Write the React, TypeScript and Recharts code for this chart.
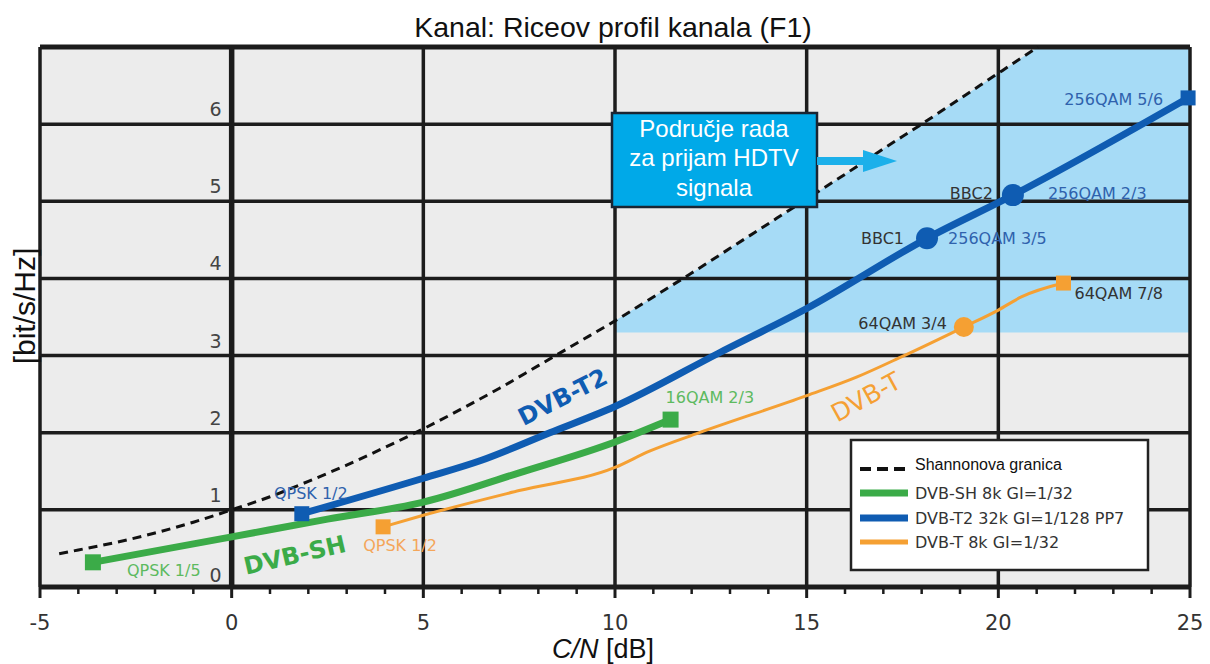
import React from 'react'
import { ComposedChart, Line, Area, XAxis, YAxis, CartesianGrid, ReferenceLine, ReferenceDot } from 'recharts'

// Shannonova granica
const shannonSnr = [-4.5, -4, -3, -2, -1, 0, 1, 2, 3, 4, 5, 6, 7, 8, 9, 10, 11, 12, 13, 14, 15, 16, 17, 18, 19, 20, 21.03]
const shannonEff = [0.43, 0.48, 0.58, 0.7, 0.84, 1.0, 1.17, 1.37, 1.58, 1.81, 2.05, 2.31, 2.58, 2.87, 3.16, 3.45, 3.76, 4.07, 4.39, 4.71, 5.03, 5.35, 5.68, 6.0, 6.33, 6.66, 7.0]

// DVB-SH 8k GI=1/32
const shSnr = [-3.62, 0, 2.5, 5, 7.5, 10, 11.45]
const shEff = [0.32, 0.65, 0.88, 1.1, 1.48, 1.88, 2.17]

// DVB-T2 32k GI=1/128 PP7
const t2Snr = [1.83, 5, 6.5, 8.3, 10, 12.7, 15, 18.14, 20.38, 24.95]
const t2Eff = [0.95, 1.41, 1.64, 2.0, 2.34, 3.03, 3.61, 4.52, 5.08, 6.34]

// DVB-T 8k GI=1/32
const tSnr = [3.95, 5, 7.5, 10, 10.9, 12.2, 15, 16.3, 17.5, 19.1, 20, 20.6, 21.7]
const tEff = [0.78, 0.93, 1.25, 1.55, 1.76, 2.0, 2.48, 2.72, 2.99, 3.37, 3.59, 3.76, 3.94]

// HDTV region: from 10 dB, above 3.3 bit/s/Hz, under the Shannon limit
const hdtvStart = 10
const hdtvFloor = 3.3
const hdtvEnd = 25
const yMax = 7

const xMajor = [-5, 0, 5, 10, 15, 20, 25]
const xMinor = Array.from({ length: 31 }, (_, i) => i - 5)
const yGrid = [1, 2, 3, 4, 5, 6]
const yLabels = [0, 1, 2, 3, 4, 5, 6]

const BLUE = '#0f5cb2'
const GREEN = '#3bab48'
const ORANGE = '#f5a033'
const GRID = '#1c1c1c'
const VERDANA = '"DejaVu Sans", Verdana, sans-serif'
const ARIAL = '"Liberation Sans", Arial, sans-serif'

const zip = (xs: number[], ys: number[]) => xs.map((x, i) => ({ x, y: ys[i] }))
const shannonData = zip(shannonSnr, shannonEff)
const shData = zip(shSnr, shEff)
const t2Data = zip(t2Snr, t2Eff)
const tData = zip(tSnr, tEff)
const hdtvData = [
  ...shannonData.filter((d) => d.x >= hdtvStart).map((d) => ({ x: d.x, lo: hdtvFloor, hi: d.y })),
  { x: hdtvEnd, lo: hdtvFloor, hi: yMax },
]

// point annotations, anchored on the markers
const pointTags = [
  { x: t2Snr[0], y: t2Eff[0], text: 'QPSK 1/2', color: '#2f62ad', anchor: 'middle', dx: 9, dy: -20 },
  { x: shSnr[0], y: shEff[0], text: 'QPSK 1/5', color: '#5dba5f', anchor: 'start', dx: 34, dy: 8 },
  { x: tSnr[0], y: tEff[0], text: 'QPSK 1/2', color: '#f4a65a', anchor: 'middle', dx: 17, dy: 19 },
  { x: shSnr[6], y: shEff[6], text: '16QAM 2/3', color: '#5dba5f', anchor: 'start', dx: -5, dy: -22 },
  { x: tSnr[9], y: tEff[9], text: '64QAM 3/4', color: '#333', anchor: 'end', dx: -17, dy: -4 },
  { x: tSnr[12], y: tEff[12], text: '64QAM 7/8', color: '#333', anchor: 'start', dx: 11, dy: 10 },
  { x: t2Snr[7], y: t2Eff[7], text: 'BBC1', color: '#333', anchor: 'end', dx: -23, dy: 0 },
  { x: t2Snr[7], y: t2Eff[7], text: '256QAM 3/5', color: '#2f62ad', anchor: 'start', dx: 21, dy: 0 },
  { x: t2Snr[8], y: t2Eff[8], text: 'BBC2', color: '#333', anchor: 'end', dx: -20, dy: -2 },
  { x: t2Snr[8], y: t2Eff[8], text: '256QAM 2/3', color: '#2f62ad', anchor: 'start', dx: 35, dy: -2 },
  { x: t2Snr[9], y: t2Eff[9], text: '256QAM 5/6', color: '#2f62ad', anchor: 'end', dx: -25, dy: 2 },
]

// curve names written along the lines
const curveTags = [
  { x: 8.64, y: 2.46, text: 'DVB-T2', color: BLUE, rot: -27, size: 24, weight: 700 },
  { x: 1.65, y: 0.41, text: 'DVB-SH', color: GREEN, rot: -13, size: 24, weight: 700 },
  { x: 16.55, y: 2.46, text: 'DVB-T', color: ORANGE, rot: -29, size: 25, weight: 400 },
]

function Tag(props: any) {
  const { viewBox, text, color, anchor = 'middle', dx = 0, dy = 0, size = 16, weight = 400, rot = 0 } = props
  if (!viewBox) return null
  const cx = viewBox.x + (viewBox.width || 0) / 2 + dx
  const cy = viewBox.y + (viewBox.height || 0) / 2 + dy
  return (
    <text
      x={cx}
      y={cy}
      textAnchor={anchor}
      dominantBaseline="central"
      fill={color}
      fontSize={size}
      fontWeight={weight}
      fontFamily={VERDANA}
      transform={rot ? `rotate(${rot} ${cx} ${cy})` : undefined}
    >
      {text}
    </text>
  )
}

function XTick({ x, y, payload }: any) {
  const major = payload.value % 5 === 0
  return (
    <g>
      <line x1={x} x2={x} y1={y} y2={y + (major ? 11 : 7)} stroke={GRID} strokeWidth={major ? 3 : 2.5} />
      {major && (
        <text x={x} y={y + 36} textAnchor="middle" dominantBaseline="central" fontSize={21} fill="#333" fontFamily={VERDANA}>
          {payload.value}
        </text>
      )}
    </g>
  )
}

function markerDot(color: string, sq: number, circ: number, circleAt: number[], last: number) {
  return (p: any) => {
    const { cx, cy, index } = p
    const key = `m${color}${index}`
    if (cx == null || cy == null) return <g key={key} />
    if (index === 0 || index === last) {
      return <rect key={key} x={cx - sq / 2} y={cy - sq / 2} width={sq} height={sq} fill={color} />
    }
    if (circleAt.includes(index)) return <circle key={key} cx={cx} cy={cy} r={circ} fill={color} />
    return <g key={key} />
  }
}

function Overlay() {
  return (
    <svg width={1194} height={656} style={{ position: 'absolute', left: 0, top: 0, pointerEvents: 'none' }}>
      <text x={605} y={19} textAnchor="middle" dominantBaseline="central" fontSize={28.5} fontFamily={ARIAL} fill="#111">
        Kanal: Riceov profil kanala (F1)
      </text>
      <text
        transform="translate(16 298) rotate(-90)"
        textAnchor="middle"
        dominantBaseline="central"
        fontSize={30}
        fontFamily={ARIAL}
        fill="#111"
      >
        [bit/s/Hz]
      </text>
      <text x={595} y={641} textAnchor="middle" dominantBaseline="central" fontSize={27} fontFamily={ARIAL} fill="#111">
        <tspan fontStyle="italic">C/N</tspan>
        <tspan> [dB]</tspan>
      </text>

      <rect x={604} y={105} width={205} height={94} fill="#00a9e8" stroke="#1a2533" strokeWidth={2.5} />
      {['Područje rada', 'za prijam HDTV', 'signala'].map((t, i) => (
        <text key={t} x={706} y={120 + i * 29.5} textAnchor="middle" dominantBaseline="central" fontSize={24} fontFamily={ARIAL} fill="#fff">
          {t}
        </text>
      ))}
      <rect x={809} y={149} width={47} height={8} fill="#1cb0ea" />
      <polygon points="855,142 889,153 855,164" fill="#1cb0ea" />

      <rect x={843} y={432} width={297} height={130} fill="#fff" stroke="#222" strokeWidth={2.5} />
      <line x1={852} x2={900} y1={461} y2={461} stroke="#111" strokeWidth={4} strokeDasharray="11 6" />
      <text x={907} y={456} dominantBaseline="central" fontSize={16} fontFamily={ARIAL} fill="#111">
        Shannonova granica
      </text>
      {[
        { c: GREEN, w: 7, y: 485, t: 'DVB-SH 8k GI=1/32' },
        { c: BLUE, w: 7, y: 510, t: 'DVB-T2 32k GI=1/128 PP7' },
        { c: ORANGE, w: 5, y: 534, t: 'DVB-T 8k GI=1/32' },
      ].map((r) => (
        <g key={r.t}>
          <line x1={852} x2={900} y1={r.y} y2={r.y} stroke={r.c} strokeWidth={r.w} />
          <text x={907} y={r.y} dominantBaseline="central" fontSize={16} fontFamily={VERDANA} fill="#333">
            {r.t}
          </text>
        </g>
      ))}
    </svg>
  )
}

export default function App() {
  return (
    <div style={{ position: 'relative', width: 1194, height: 656, fontFamily: ARIAL }}>
      <ComposedChart width={1194} height={648} margin={{ top: 39, right: 12, left: 32, bottom: 9 }}>
        <CartesianGrid fill="#ececec" stroke="none" horizontal={false} vertical={false} />
        <XAxis
          type="number"
          dataKey="x"
          domain={[-5, 25]}
          ticks={xMinor}
          interval={0}
          height={60}
          tickSize={0}
          tickMargin={0}
          tickLine={false}
          tick={<XTick />}
          axisLine={{ stroke: GRID, strokeWidth: 5 }}
        />
        <YAxis type="number" domain={[0, yMax]} hide />

        <Area
          data={hdtvData}
          dataKey={(d: any) => [d.lo, d.hi]}
          type="linear"
          stroke="none"
          fill="#a6dbf6"
          fillOpacity={1}
          isAnimationActive={false}
        />

        {yGrid.map((v) => (
          <ReferenceLine key={`h${v}`} y={v} stroke={GRID} strokeWidth={3.5} />
        ))}
        <ReferenceLine y={yMax} stroke={GRID} strokeWidth={5} />
        {xMajor.map((v) => (
          <ReferenceLine key={`v${v}`} x={v} stroke={GRID} strokeWidth={v === 0 ? 5.5 : 3.5} />
        ))}

        {yLabels.map((v) => (
          <ReferenceDot
            key={`yl${v}`}
            x={0}
            y={v}
            r={0}
            fill="none"
            stroke="none"
            label={<Tag text={String(v)} color="#444" anchor="end" dx={-10} dy={v === 0 ? -12 : -15} size={19} />}
          />
        ))}

        <Line
          data={shannonData}
          dataKey="y"
          type="monotone"
          stroke="#111"
          strokeWidth={3}
          strokeDasharray="9 6"
          dot={false}
          isAnimationActive={false}
        />
        <Line
          data={tData}
          dataKey="y"
          type="monotone"
          stroke={ORANGE}
          strokeWidth={3}
          dot={markerDot(ORANGE, 15, 10, [9], tData.length - 1)}
          isAnimationActive={false}
        />
        <Line
          data={shData}
          dataKey="y"
          type="monotone"
          stroke={GREEN}
          strokeWidth={7}
          dot={markerDot(GREEN, 16, 10, [], shData.length - 1)}
          isAnimationActive={false}
        />
        <Line
          data={t2Data}
          dataKey="y"
          type="monotone"
          stroke={BLUE}
          strokeWidth={7}
          dot={markerDot(BLUE, 15, 11, [7, 8], t2Data.length - 1)}
          isAnimationActive={false}
        />

        {pointTags.map((t, i) => (
          <ReferenceDot
            key={`pt${i}`}
            x={t.x}
            y={t.y}
            r={0}
            fill="none"
            stroke="none"
            label={<Tag text={t.text} color={t.color} anchor={t.anchor} dx={t.dx} dy={t.dy} size={16} />}
          />
        ))}
        {curveTags.map((t, i) => (
          <ReferenceDot
            key={`ct${i}`}
            x={t.x}
            y={t.y}
            r={0}
            fill="none"
            stroke="none"
            label={<Tag text={t.text} color={t.color} rot={t.rot} size={t.size} weight={t.weight} />}
          />
        ))}
      </ComposedChart>
      <Overlay />
    </div>
  )
}
